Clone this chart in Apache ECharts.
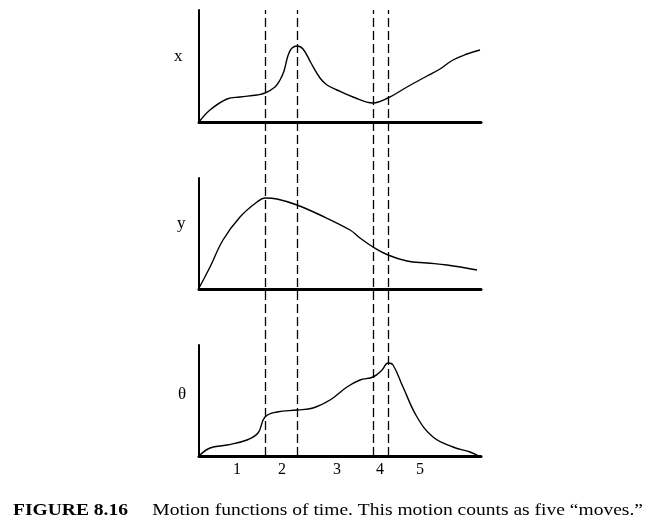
<!DOCTYPE html>
<html>
<head>
<meta charset="utf-8">
<script src="https://cdn.jsdelivr.net/npm/echarts@6/dist/echarts.min.js"></script>
<style>html,body{margin:0;padding:0;background:#fff;}#c{width:659px;height:529px;}</style>
</head>
<body>
<div id="c"></div>
<script>
// time axis (arbitrary units)
var xData = [[0,0],[11,12],[28,23],[41,25],[58,27],[66,29],[76,35],[81,42],[85,51],[88,63],[90,69],[93,74],[98,76],[104,73],[112,59],[121,44],[128,37],[138,32],[154,25],[174,19],[189,24],[208,35],[228,46],[241,53],[254,62],[268,68],[281,72]];
var yData = [[0,1],[11,22],[24,49],[41,72],[58,87],[66,91],[78,90],[98,84],[121,74],[151,59],[161,51],[174,42],[189,34],[208,28],[228,26],[248,24],[278,19]];
var thetaData = [[0,0],[11,8],[28,11],[48,16],[59,23],[66,39],[78,44],[98,46],[114,48],[131,56],[148,69],[161,76],[174,79],[183,86],[189,93],[194,91],[204,69],[218,39],[234,19],[254,9],[271,4],[280,0]];
var moveBoundaries = [66, 98, 174, 189];
var moveLabels = ['1','2','3','4','5'];
var moveLabelPos = [38, 83, 138, 181, 221];
var axisNames = ['x', 'y', '\u03b8'];
var captionBold = 'FIGURE 8.16';
var captionText = 'Motion functions of time. This motion counts as five \u201cmoves.\u201d';

var chart = echarts.init(document.getElementById('c'));
var serif = '"Liberation Serif","DejaVu Serif",serif';
var grids = [
  {left:199, width:282, top:10, height:112},
  {left:199, width:282, top:178, height:111},
  {left:199, width:282, top:345, height:111},
  {left:199, width:282, top:10, height:446}
];
function xAx(i, show){
  var a = {type:'value', gridIndex:i, min:0, max:282, show:show,
    axisLine:{show:true, onZero:false, lineStyle:{color:'#000', width:3}},
    axisTick:{show:false}, splitLine:{show:false}, axisLabel:{show:false}};
  if (i === 2) {
    a.axisLabel = {show:true, customValues: moveLabelPos, margin:6,
      formatter:function(v){ var k = moveLabelPos.indexOf(v); return k>=0 ? moveLabels[k] : ''; },
      fontFamily: serif, fontSize:16, color:'#000'};
  }
  return a;
}
function yAx(i, max, show){
  return {type:'value', gridIndex:i, min:0, max:max, show:show,
    axisLine:{show:true, onZero:false, lineStyle:{color:'#000', width:2}},
    axisTick:{show:false}, splitLine:{show:false}, axisLabel:{show:false}};
}
var lineStyle = {color:'#000', width:1.4};
var nameStyle = {fontFamily:serif, fontSize:17, fontWeight:'normal', color:'#000'};
var option = {
  animation:false,
  backgroundColor:'#fff',
  grid: grids,
  xAxis: [xAx(0,true), xAx(1,true), xAx(2,true), xAx(3,false)],
  yAxis: [yAx(0,112,true), yAx(1,111,true), yAx(2,111,true), yAx(3,100,false)],
  title: [
    {text: axisNames[0], left:169, top:43, textStyle:nameStyle},
    {text: axisNames[1], left:172, top:210, textStyle:nameStyle},
    {text: axisNames[2], left:173, top:381, textStyle:nameStyle}
  ],
  graphic: [
    {type:'text', x:13, y:511, scaleX:1.22, silent:true,
     style:{text: '{b|' + captionBold + '}{n|     ' + captionText + '}',
       align:'left', verticalAlign:'middle',
       rich:{
         b:{fontFamily:serif, fontSize:16, fontWeight:'bold', fill:'#000'},
         n:{fontFamily:serif, fontSize:16, fontWeight:'normal', fill:'#000'}}}}
  ],
  series: [
    {type:'line', xAxisIndex:0, yAxisIndex:0, data:xData, smooth:0.4, showSymbol:false, symbol:'none', lineStyle:lineStyle},
    {type:'line', xAxisIndex:1, yAxisIndex:1, data:yData, smooth:0.4, showSymbol:false, symbol:'none', lineStyle:lineStyle},
    {type:'line', xAxisIndex:2, yAxisIndex:2, data:thetaData, smooth:0.4, showSymbol:false, symbol:'none', lineStyle:lineStyle},
    {type:'line', xAxisIndex:3, yAxisIndex:3, data:[], silent:true,
     markLine:{silent:true, symbol:['none','none'], label:{show:false},
       lineStyle:{color:'#000', width:1.3, type:[9,4]},
       data: moveBoundaries.map(function(v){ return {xAxis:v}; })}}
  ]
};
chart.setOption(option);
</script>
</body>
</html>
